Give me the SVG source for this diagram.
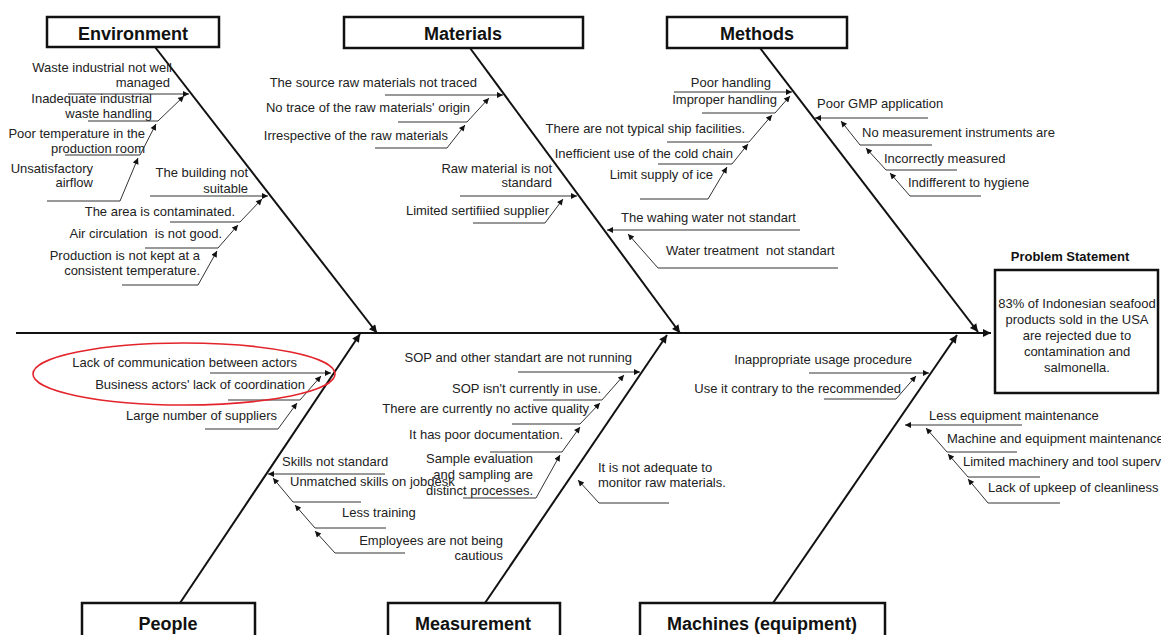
<svg xmlns="http://www.w3.org/2000/svg" width="1161" height="635" viewBox="0 0 1161 635">
<style>
.bg{fill:#fff}
.box{fill:#fff;stroke:#111;stroke-width:2.5}
.cat{font-family:"Liberation Sans",Arial,sans-serif;font-size:18px;font-weight:bold;fill:#111;text-anchor:middle}
.t{font-family:"Liberation Sans",Arial,sans-serif;font-size:13px;fill:#222;white-space:pre}
.r{text-anchor:end}
.c{text-anchor:middle}
.ps{font-family:"Liberation Sans",Arial,sans-serif;font-size:13px;font-weight:bold;fill:#111;text-anchor:middle}
.bone{fill:none;stroke:#111;stroke-width:2}
.sub{fill:none;stroke:#333;stroke-width:1}
.hl{fill:none;stroke:#e3242b;stroke-width:1.6}
</style>
<defs>
<marker id="ah" viewBox="0 0 10 10" refX="10" refY="5" markerWidth="8" markerHeight="6" markerUnits="userSpaceOnUse" orient="auto"><path d="M0,0 L10,5 L0,10 z" fill="#111"/></marker>
<marker id="ahb" viewBox="0 0 10 10" refX="10" refY="5" markerWidth="11" markerHeight="8" markerUnits="userSpaceOnUse" orient="auto"><path d="M0,0 L10,5 L0,10 z" fill="#111"/></marker>
</defs>
<rect class="bg" x="0" y="0" width="1161" height="635"/>

<g id="connectors">
<path class="bone" d="M16,333 L991,333" marker-end="url(#ahb)"/>
<path class="bone" d="M155,47 L377,333" marker-end="url(#ahb)"/>
<path class="bone" d="M470,48 L680,333" marker-end="url(#ahb)"/>
<path class="bone" d="M760,48 L978,332" marker-end="url(#ahb)"/>
<path class="bone" d="M180,603 L360,334" marker-end="url(#ahb)"/>
<path class="bone" d="M485,603 L667,335" marker-end="url(#ahb)"/>
<path class="bone" d="M773,603 L957,335" marker-end="url(#ahb)"/>
<!-- Environment -->
<path class="sub" d="M68,94 L189,94" marker-end="url(#ah)"/>
<path class="sub" d="M88,121 L158,121 L184,96" marker-end="url(#ah)"/>
<path class="sub" d="M65,155 L140,155 L156,124" marker-end="url(#ah)"/>
<path class="sub" d="M47,201 L120,201 L138,158" marker-end="url(#ah)"/>
<path class="sub" d="M150,196 L268,196" marker-end="url(#ah)"/>
<path class="sub" d="M170,222 L240,222 L262,199" marker-end="url(#ah)"/>
<path class="sub" d="M145,248 L218,248 L238,225" marker-end="url(#ah)"/>
<path class="sub" d="M122,285 L198,285 L217,251" marker-end="url(#ah)"/>
<!-- Materials -->
<path class="sub" d="M385,95 L503,95" marker-end="url(#ah)"/>
<path class="sub" d="M398,122 L467,122 L489,98" marker-end="url(#ah)"/>
<path class="sub" d="M375,148 L447,148 L465,125" marker-end="url(#ah)"/>
<path class="sub" d="M460,196 L577,196" marker-end="url(#ah)"/>
<path class="sub" d="M473,223 L545,223 L563,199" marker-end="url(#ah)"/>
<path class="sub" d="M800,230 L607,230" marker-end="url(#ah)"/>
<path class="sub" d="M838,268 L658,268 L628,234" marker-end="url(#ah)"/>
<!-- Methods -->
<path class="sub" d="M674,92 L792,92" marker-end="url(#ah)"/>
<path class="sub" d="M702,113 L775,113 L790,96" marker-end="url(#ah)"/>
<path class="sub" d="M667,142 L749,142 L772,115" marker-end="url(#ah)"/>
<path class="sub" d="M658,164 L732,164 L748,144" marker-end="url(#ah)"/>
<path class="sub" d="M640,199 L708,199 L727,167" marker-end="url(#ah)"/>
<path class="sub" d="M928,118 L815,118" marker-end="url(#ah)"/>
<path class="sub" d="M932,145 L860,145 L841,121" marker-end="url(#ah)"/>
<path class="sub" d="M957,170 L886,170 L866,148" marker-end="url(#ah)"/>
<path class="sub" d="M981,196 L910,196 L890,173" marker-end="url(#ah)"/>
<!-- People -->
<path class="sub" d="M210,373 L331,373" marker-end="url(#ah)"/>
<path class="sub" d="M228,400 L300,400 L321,376" marker-end="url(#ah)"/>
<path class="sub" d="M205,429 L278,429 L297,403" marker-end="url(#ah)"/>
<path class="sub" d="M385,474 L268,474" marker-end="url(#ah)"/>
<path class="sub" d="M361,502 L293,502 L273,478" marker-end="url(#ah)"/>
<path class="sub" d="M386,528 L315,528 L295,505" marker-end="url(#ah)"/>
<path class="sub" d="M405,553 L335,553 L315,531" marker-end="url(#ah)"/>
<!-- Measurement -->
<path class="sub" d="M518,372 L640,372" marker-end="url(#ah)"/>
<path class="sub" d="M533,400 L602,400 L624,375" marker-end="url(#ah)"/>
<path class="sub" d="M512,424 L580,424 L600,403" marker-end="url(#ah)"/>
<path class="sub" d="M490,452 L562,452 L580,427" marker-end="url(#ah)"/>
<path class="sub" d="M463,498 L536,498 L560,455" marker-end="url(#ah)"/>
<path class="sub" d="M669,503 L599,503 L578,480" marker-end="url(#ah)"/>
<!-- Machines -->
<path class="sub" d="M809,373 L929,373" marker-end="url(#ah)"/>
<path class="sub" d="M824,399 L896,399 L916,376" marker-end="url(#ah)"/>
<path class="sub" d="M1022,425 L905,425" marker-end="url(#ah)"/>
<path class="sub" d="M1017,452 L947,452 L926,428" marker-end="url(#ah)"/>
<path class="sub" d="M1040,477 L968,477 L948,454" marker-end="url(#ah)"/>
<path class="sub" d="M1060,503 L988,503 L968,479" marker-end="url(#ah)"/>
</g>

<g id="cat-environment"><rect class="box" x="47" y="17" width="172" height="30"/><text class="cat" x="133" y="40">Environment</text></g>
<g id="cat-materials"><rect class="box" x="344" y="17" width="239" height="31"/><text class="cat" x="463" y="40">Materials</text></g>
<g id="cat-methods"><rect class="box" x="667" y="17" width="180" height="31"/><text class="cat" x="757" y="40">Methods</text></g>
<g id="cat-people"><rect class="box" x="82" y="603" width="173" height="40"/><text class="cat" x="168" y="630">People</text></g>
<g id="cat-measurement"><rect class="box" x="388" y="603" width="172" height="40"/><text class="cat" x="473" y="630">Measurement</text></g>
<g id="cat-machines"><rect class="box" x="640" y="603" width="245" height="40"/><text class="cat" x="762" y="630">Machines (equipment)</text></g>

<g id="problem">
<text class="ps" x="1070" y="261">Problem Statement</text>
<rect class="box" x="995" y="270" width="163" height="123"/>
<text class="t c" x="1077" y="308">83% of Indonesian seafood</text>
<text class="t c" x="1077" y="324">products sold in the USA</text>
<text class="t c" x="1077" y="340">are rejected due to</text>
<text class="t c" x="1077" y="356">contamination and</text>
<text class="t c" x="1077" y="372">salmonella.</text>
</g>

<g id="env-1"><text class="t r" x="172" y="72">Waste industrial not well</text><text class="t r" x="170" y="87">managed</text></g>
<g id="env-2"><text class="t r" x="152" y="103">Inadequate industrial</text><text class="t r" x="152" y="118">waste handling</text></g>
<g id="env-3"><text class="t r" x="145" y="138">Poor temperature in the</text><text class="t r" x="145" y="153">production room</text></g>
<g id="env-4"><text class="t r" x="93" y="173">Unsatisfactory</text><text class="t r" x="93" y="187">airflow</text></g>
<g id="env-5"><text class="t r" x="248" y="177">The building not</text><text class="t r" x="248" y="193">suitable</text></g>
<g id="env-6"><text class="t r" x="235" y="216">The area is contaminated.</text></g>
<g id="env-7"><text class="t r" x="222" y="238">Air circulation  is not good.</text></g>
<g id="env-8"><text class="t r" x="200" y="260">Production is not kept at a</text><text class="t r" x="200" y="275">consistent temperature.</text></g>

<g id="mat-1"><text class="t r" x="477" y="87">The source raw materials not traced</text></g>
<g id="mat-2"><text class="t r" x="470" y="112">No trace of the raw materials' origin</text></g>
<g id="mat-3"><text class="t r" x="448" y="140">Irrespective of the raw materials</text></g>
<g id="mat-4"><text class="t r" x="552" y="173">Raw material is not</text><text class="t r" x="552" y="187">standard</text></g>
<g id="mat-5"><text class="t r" x="549" y="215">Limited sertifiied supplier</text></g>
<g id="mat-6"><text class="t" x="621" y="222">The wahing water not standart</text></g>
<g id="mat-7"><text class="t" x="666" y="255">Water treatment  not standart</text></g>

<g id="met-1"><text class="t r" x="771" y="87">Poor handling</text></g>
<g id="met-2"><text class="t r" x="777" y="104">Improper handling</text></g>
<g id="met-3"><text class="t r" x="745" y="133">There are not typical ship facilities.</text></g>
<g id="met-4"><text class="t r" x="733" y="158">Inefficient use of the cold chain</text></g>
<g id="met-5"><text class="t r" x="713" y="179">Limit supply of ice</text></g>
<g id="met-6"><text class="t" x="817" y="108">Poor GMP application</text></g>
<g id="met-7"><text class="t" x="862" y="137">No measurement instruments are</text></g>
<g id="met-8"><text class="t" x="884" y="163">Incorrectly measured</text></g>
<g id="met-9"><text class="t" x="908" y="187">Indifferent to hygiene</text></g>

<g id="ppl-1"><text class="t r" x="297" y="367">Lack of communication between actors</text></g>
<g id="ppl-2"><text class="t r" x="305" y="389">Business actors' lack of coordination</text></g>
<g id="ppl-3"><text class="t r" x="277" y="420">Large number of suppliers</text></g>
<g id="ppl-4"><text class="t" x="282" y="466">Skills not standard</text></g>
<g id="ppl-5"><text class="t" x="290" y="486">Unmatched skills on jobdesk</text></g>
<g id="ppl-6"><text class="t" x="342" y="517">Less training</text></g>
<g id="ppl-7"><text class="t r" x="503" y="545">Employees are not being</text><text class="t r" x="503" y="560">cautious</text></g>
<ellipse id="highlight" class="hl" cx="184" cy="374" rx="151" ry="31"/>

<g id="mea-1"><text class="t r" x="632" y="362">SOP and other standart are not running</text></g>
<g id="mea-2"><text class="t r" x="601" y="393">SOP isn't currently in use.</text></g>
<g id="mea-3"><text class="t r" x="589" y="413">There are currently no active quality</text></g>
<g id="mea-4"><text class="t r" x="563" y="439">It has poor documentation.</text></g>
<g id="mea-5"><text class="t r" x="533" y="463">Sample evaluation</text><text class="t r" x="533" y="479">and sampling are</text><text class="t r" x="533" y="495">distinct processes.</text></g>
<g id="mea-6"><text class="t" x="598" y="472">It is not adequate to</text><text class="t" x="598" y="487">monitor raw materials.</text></g>

<g id="mac-1"><text class="t r" x="912" y="364">Inappropriate usage procedure</text></g>
<g id="mac-2"><text class="t r" x="901" y="393">Use it contrary to the recommended</text></g>
<g id="mac-3"><text class="t" x="929" y="420">Less equipment maintenance</text></g>
<g id="mac-4"><text class="t" x="947" y="443">Machine and equipment maintenance</text></g>
<g id="mac-5"><text class="t" x="963" y="466">Limited machinery and tool supervision</text></g>
<g id="mac-6"><text class="t" x="988" y="492">Lack of upkeep of cleanliness</text></g>
</svg>
